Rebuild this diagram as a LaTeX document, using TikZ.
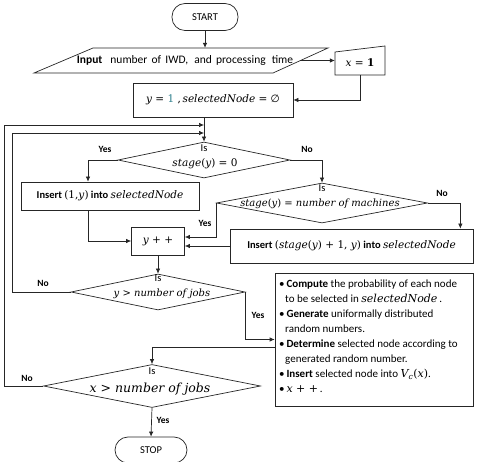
\documentclass[tikz,border=0pt]{standalone}
\usepackage[no-math]{fontspec}
\setmainfont{Carlito}
\newfontfamily\dv{DejaVu Serif}
\newfontfamily\dvs{DejaVu Sans}
\usetikzlibrary{shapes.geometric,arrows.meta,calc}
\definecolor{numc}{HTML}{2E7F8C}
\begin{document}
\begin{tikzpicture}[x=1pt,y=-1pt,
  every node/.style={font=\fontsize{10.5}{12}\selectfont, inner sep=0pt},
  line/.style={draw=black!85, line width=0.7pt},
  arr/.style={line, -{Latex[length=5pt,width=4.5pt]}},
  term/.style={line, rectangle, rounded corners=13pt, minimum height=27pt},
  boxn/.style={line, rectangle},
  dia/.style={line, diamond, inner sep=0pt},
  ghost/.style={rectangle, draw=none},
  lbl/.style={font=\fontsize{9.5}{11}\selectfont\bfseries}
]
\useasboundingbox (0,0) rectangle (482,462);

% START
\node[term, minimum width=66pt] (start) at (205,17) {START};

% Input parallelogram
\node[ghost, minimum width=294pt, minimum height=25pt] (inp) at (181,60.5) {};
\draw[line] (34,73) -- (93,48) -- (328,48) -- (273,73) -- cycle;
\node[font=\fontsize{11.5}{12}\selectfont] (inptxt) at (185,60) {\spaceskip=4.2pt \textbf{Input}\,\, number of IWD,\, and processing\, time};
\coordinate (inpR) at (300,60.5);

% x = 1 (manual input)
\node[ghost, minimum width=50pt, minimum height=29pt] (x1) at (360,60.5) {};
\draw[line] (335,52) -- (385,46) -- (385,75) -- (335,75) -- cycle;
\node (x1txt) at (360,63) {{\dv\itshape x \upshape= \bfseries 1}};

% y = 1 box
\node[boxn, minimum width=160pt, minimum height=34pt] (y1) at (213,100) {{\dv\itshape y \upshape= \textcolor{numc}{1} ,\,\itshape selectedNode \upshape= {\dvs ∅}}};

% decision 1
\node[dia, minimum width=172pt, minimum height=36pt] (d1) at (204,160) {};
\node (d1a) at (204,148) {Is};
\node (d1b) at (205,164) {{\dv\itshape stage\upshape(\itshape y\upshape) = 0}};

% Insert (1,y)
\node[boxn, minimum width=178pt, minimum height=28pt] (b1) at (110,196) {\textbf{Insert}\ {\dv(1,\textit{y})}\ \textbf{into} {\dv\itshape selectedNode}};

% decision 2
\node[dia, minimum width=211pt, minimum height=40pt] (d2) at (322,203) {};
\node (d2a) at (322,188) {Is};
\node[font=\fontsize{10}{12}\selectfont] (d2b) at (320,204) {{\dv\itshape stage\upshape(\itshape y\upshape) = \itshape number of machines}};

% Insert (stage(y)+1,y)
\node[boxn, minimum width=243pt, minimum height=34pt] (b2) at (351.5,246) {\textbf{Insert}\ {\dv(\textit{stage}(\textit{y}) + 1, \textit{y})}\ \textbf{into} {\dv\itshape selectedNode}};

% y++
\node[boxn, minimum width=53pt, minimum height=28pt] (ypp) at (158,241) {{\dv\itshape y \upshape+ +}};

% decision 3
\node[dia, minimum width=174pt, minimum height=36pt] (d3) at (158,292) {};
\node (d3a) at (158,278) {Is};
\node[font=\fontsize{10}{12}\selectfont] (d3b) at (162,294) {{\dv\itshape y \upshape> \itshape number of jobs}};

% big box
\node[boxn, minimum width=198pt, minimum height=133pt] (big) at (374,339.5) {};
\node[anchor=north west, font=\fontsize{11}{15}\selectfont, align=left] (bigtxt) at (279,280) {%
\textbullet\,\textbf{Compute} the probability of each node\\
\hspace{6pt}to be selected in {\dv\itshape selectedNode}\,.\\
\textbullet\,\textbf{Generate} uniformally distributed\\
\hspace{6pt}random numbers.\\
\textbullet\,\textbf{Determine} selected node according to\\
\hspace{6pt}generated random number.\\
\textbullet\,\textbf{Insert} selected node into {\dv\itshape V\textsubscript{c}\upshape(\itshape x\upshape)}.\\
\textbullet\,{\dv\itshape x \upshape+ +}\,.};

% decision 4
\node[dia, minimum width=217pt, minimum height=43pt] (d4) at (152,386) {};
\node (d4a) at (152,371) {Is};
\node[font=\fontsize{12.5}{15}\selectfont] (d4b) at (150,389) {{\dv\itshape x \upshape> \itshape number of jobs}};

% STOP
\node[term, minimum width=72pt, minimum height=26pt] (stop) at (151,450) {STOP};

% merge points on the line into decision 1
\coordinate (m2) at (204,125);
\coordinate (m1) at (204,133);

% connectors
\draw[arr] (start.south) -- (start.south |- inp.north);
\draw[arr] (inpR) -- (x1.west |- inpR);
\draw[arr] (x1.south) |- (y1.east);
\draw[arr] (d1.north |- y1.south) -- (d1.north);
\draw[arr] (d1.west) -| ([xshift=-22pt]b1.north);
\draw[arr] (d1.east) -| (d2.north);
\draw[arr] (d2.east) -| ([xshift=-13pt]b2.north east);
\draw[arr] (d2.west) |- ([yshift=4pt]ypp.east);
\draw[arr] (b2.west) -- (ypp.east |- b2.west);
\draw[arr] ([xshift=-22pt]b1.south) |- (ypp.west);
\draw[arr] (ypp.south) -- (d3.north);
\draw[arr] (d3.west) -- (12,292) |- (m1);
\draw[arr] (d3.east) |- (big.west);
\draw[arr] ([yshift=-8pt]big.west) -| (d4.north);
\draw[arr] (d4.west) -- (4,386) |- (m2);
\draw[arr] (d4.south) -- (stop.north);

% labels
\node[lbl] (ly1) at (105,149) {Yes};
\node[lbl] (ln1) at (307,149) {No};
\node[lbl] (ln2) at (442,193) {No};
\node[lbl] (ly2) at (205,223) {Yes};
\node[lbl] (ln3) at (43,283) {No};
\node[lbl] (ly3) at (258,315) {Yes};
\node[lbl] (ln4) at (27,378) {No};
\node[lbl] (ly4) at (163,420) {Yes};
\end{tikzpicture}
\end{document}
